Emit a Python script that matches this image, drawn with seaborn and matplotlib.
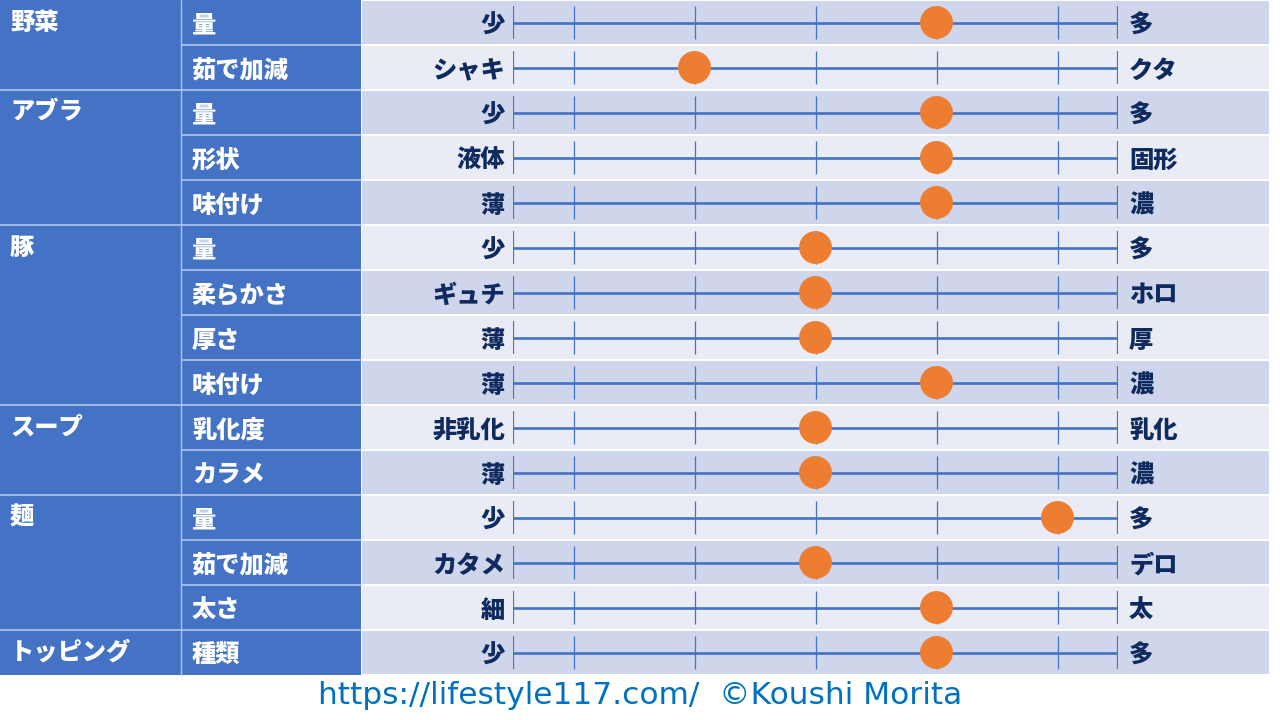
import matplotlib
matplotlib.use("Agg")
import matplotlib.pyplot as plt
from matplotlib.patches import Rectangle
import seaborn as sns
import pandas as pd

# ---------------- data ----------------
categories = ["野菜", "アブラ", "豚", "スープ", "麺", "トッピング"]
category_sizes = [2, 3, 4, 2, 3, 1]
items = ["量", "茹で加減", "量", "形状", "味付け", "量", "柔らかさ", "厚さ", "味付け",
         "乳化度", "カラメ", "量", "茹で加減", "太さ", "種類"]
left_labels = ["少", "シャキ", "少", "液体", "薄", "少", "ギュチ", "薄", "薄",
               "非乳化", "薄", "少", "カタメ", "細", "少"]
right_labels = ["多", "クタ", "多", "固形", "濃", "多", "ホロ", "厚", "濃",
                "乳化", "濃", "多", "デロ", "太", "多"]
values = [7, 3, 7, 7, 7, 5, 5, 5, 7, 5, 5, 9, 5, 7, 7]
tick_positions = [1, 3, 5, 7, 9]
scale_min, scale_max = 0, 10
footer = "https://lifestyle117.com/  ©Koushi Morita"

# ---------------- style ----------------
sns.set_style("white")
plt.rcParams["font.family"] = ["Noto Sans CJK JP", "DejaVu Sans"]

BLUE = "#4472C4"
SEP = "#B4C6E7"
DARK_ROW = "#CFD5EA"
LIGHT_ROW = "#E9EBF5"
NAVY = "#0E2A5E"
ORANGE = "#ED7D31"

W, H = 1280, 720
ROW_H = 45
FS = 17.5
WEIGHT = "heavy"
DY = 3.0  # optical centring of CJK glyphs
n = len(items)
fig = plt.figure(figsize=(12.8, 7.2), dpi=100, facecolor="white")

# background / table axes in pixel space
bg = fig.add_axes([0, 0, 1, 1])
bg.set_xlim(0, W)
bg.set_ylim(H, 0)
bg.axis("off")

table_h = ROW_H * n
bg.add_patch(Rectangle((0, 0), 361, table_h, facecolor=BLUE, edgecolor="none"))
bg.plot([181, 181], [0, table_h], color=SEP, lw=1.0)
for i in range(n):
    y0 = i * ROW_H
    yc = y0 + ROW_H / 2 + DY
    bg.add_patch(Rectangle((362, y0 + 0.5), 907, ROW_H - 2,
                           facecolor=DARK_ROW if i % 2 == 0 else LIGHT_ROW,
                           edgecolor="none"))
    if i > 0:
        bg.plot([182, 361], [y0, y0], color=SEP, lw=1.2)
    bg.text(192, yc, items[i], color="white", fontsize=FS,
            fontweight=WEIGHT, ha="left", va="center")
    bg.text(505, yc, left_labels[i], color=NAVY, fontsize=FS,
            fontweight=WEIGHT, ha="right", va="center")
    bg.text(1129, yc, right_labels[i], color=NAVY, fontsize=FS,
            fontweight=WEIGHT, ha="left", va="center")

start = 0
for cat, size in zip(categories, category_sizes):
    y0 = start * ROW_H
    if start > 0:
        bg.plot([0, 181], [y0, y0], color=SEP, lw=1.2)
    bg.text(10, y0 + ROW_H / 2 + DY - 3, cat, color="white", fontsize=FS,
            fontweight=WEIGHT, ha="left", va="center")
    start += size

bg.text(640.5, 696, footer, color="#0070C0", fontsize=22.5, ha="center", va="center",
        family=["DejaVu Sans"])

# slider axes
x0, x1 = 513, 1118
ax = fig.add_axes([x0 / W, (H - table_h) / H, (x1 - x0) / W, table_h / H])
ax.patch.set_alpha(0)

rows = list(range(n))
half = 0.37
ax.hlines(rows, scale_min, scale_max, color=BLUE, lw=1.9, zorder=1)
for r in rows:
    ax.vlines([scale_min, scale_max], r - half, r + half, color=BLUE, lw=1.6, zorder=1)
    ax.vlines(tick_positions, r - half, r + half, color=BLUE, lw=0.9, zorder=1)

df = pd.DataFrame({"value": values, "row": rows})
sns.scatterplot(data=df, x="value", y="row", ax=ax, s=560, color=ORANGE,
                edgecolor="none", linewidth=0, zorder=3, clip_on=False, legend=False)
ax.set_xlim(scale_min, scale_max)
ax.set_ylim(n - 0.5, -0.5)
ax.axis("off")

fig.savefig("out.png", dpi=100, facecolor="white")
